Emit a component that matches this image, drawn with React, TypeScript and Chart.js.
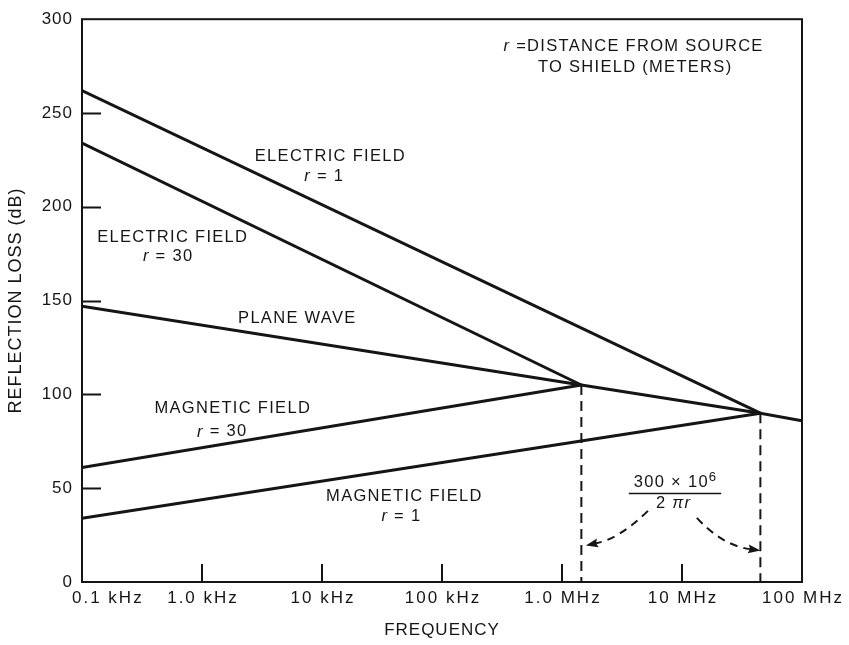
import React, { useEffect, useRef } from "react";
import { Chart, registerables } from "chart.js";

Chart.register(...registerables);

const FONT = '"Liberation Sans", Arial, Helvetica, sans-serif';
const INK = "#151515";

// ---- axes ----
const xTickValues = [1e2, 1e3, 1e4, 1e5, 1e6, 1e7, 1e8];
const xTickLabels = ["0.1 kHz", "1.0 kHz", "10 kHz", "100 kHz", "1.0 MHz", "10 MHz", "100 MHz"];
const yInnerTicks = [50, 100, 150, 200, 250];

// ---- series (frequency in Hz, reflection loss in dB) ----
const electricR1 = [{ x: 1e2, y: 262 }, { x: 4.5e7, y: 90 }];
const electricR30 = [{ x: 1e2, y: 234 }, { x: 1.45e6, y: 105 }];
const planeWave = [{ x: 1e2, y: 147 }, { x: 1.45e6, y: 105 }, { x: 4.5e7, y: 90 }, { x: 1e8, y: 86 }];
const magneticR30 = [{ x: 1e2, y: 61 }, { x: 1.45e6, y: 105 }];
const magneticR1 = [{ x: 1e2, y: 34 }, { x: 4.5e7, y: 90 }];
const cornerR30 = [{ x: 1.45e6, y: 105 }, { x: 1.45e6, y: 0 }];
const cornerR1 = [{ x: 4.5e7, y: 90 }, { x: 4.5e7, y: 0 }];

type Run = { t: string; i?: boolean; sup?: boolean };
type Note = { x: number; y: number; runs: Run[] };

const curveNotes: Note[] = [
  { x: 1.16e4, y: 226.8, runs: [{ t: "ELECTRIC FIELD" }] },
  { x: 1.03e4, y: 216.3, runs: [{ t: "r", i: true }, { t: " = 1" }] },
  { x: 563, y: 183.9, runs: [{ t: "ELECTRIC FIELD" }] },
  { x: 516, y: 173.7, runs: [{ t: "r", i: true }, { t: " = 30" }] },
  { x: 6150, y: 140.5, runs: [{ t: "PLANE WAVE" }] },
  { x: 1783, y: 92.6, runs: [{ t: "MAGNETIC FIELD" }] },
  { x: 1457, y: 80, runs: [{ t: "r", i: true }, { t: " = 30" }] },
  { x: 4.8e4, y: 45.8, runs: [{ t: "MAGNETIC FIELD" }] },
  { x: 4.53e4, y: 34.7, runs: [{ t: "r", i: true }, { t: " = 1" }] },
  { x: 3.9e6, y: 285.3, runs: [{ t: "r", i: true }, { t: " =DISTANCE FROM SOURCE" }] },
  { x: 4.02e6, y: 274.2, runs: [{ t: "TO SHIELD (METERS)" }] },
];

const fractionAt = { x: 8.74e6, numY: 53.2, lineY: 47.4, denY: 42.1 };
const numerator: Run[] = [{ t: "300 × 10" }, { t: "6", sup: true }];
const denominator: Run[] = [{ t: "2 " }, { t: "πr", i: true }];

// arrows: start, control, end in data space
const arrows = [
  { from: { x: 5.2e6, y: 37.9 }, ctrl: { x: 3.04e6, y: 23.2 }, to: { x: 1.58e6, y: 19.5 } },
  { from: { x: 1.33e7, y: 34.2 }, ctrl: { x: 2.16e7, y: 19.5 }, to: { x: 4.5e7, y: 16.8 } },
];

const LABEL_SIZE = 16.5;
const LABEL_SPACING = 1.3;

function runFont(r: Run, size: number) {
  const s = r.sup ? size * 0.8 : size;
  return `${r.i ? "italic " : ""}${s}px ${FONT}`;
}

function drawRuns(ctx: any, cx: number, cy: number, runs: Run[], size: number, spacing: number) {
  ctx.letterSpacing = spacing + "px";
  const widths = runs.map((r) => {
    ctx.font = runFont(r, size);
    return ctx.measureText(r.t).width;
  });
  const total = widths.reduce((a, b) => a + b, 0) - spacing;
  let x = cx - total / 2;
  ctx.textAlign = "left";
  ctx.textBaseline = "middle";
  runs.forEach((r, k) => {
    ctx.font = runFont(r, size);
    ctx.fillText(r.t, x, r.sup ? cy - 5 : cy);
    x += widths[k];
  });
  return total;
}

const annotate = {
  id: "annotate",
  beforeDraw(chart: any) {
    chart.ctx.letterSpacing = "1px";
  },
  afterDraw(chart: any) {
    const { ctx, chartArea: a, scales } = chart;
    const xs = scales.x;
    const ys = scales.y;
    ctx.save();
    ctx.strokeStyle = INK;
    ctx.fillStyle = INK;

    // frame
    ctx.lineWidth = 2;
    ctx.setLineDash([]);
    ctx.strokeRect(a.left, a.top, a.right - a.left, a.bottom - a.top);

    // inward ticks
    ctx.lineWidth = 2;
    ctx.beginPath();
    yInnerTicks.forEach((v) => {
      const py = Math.round(ys.getPixelForValue(v)) + 0.5;
      ctx.moveTo(a.left, py);
      ctx.lineTo(a.left + 19, py);
    });
    xTickValues.slice(1, -1).forEach((v) => {
      const px = Math.round(xs.getPixelForValue(v));
      ctx.moveTo(px, a.bottom);
      ctx.lineTo(px, a.bottom - 18);
    });
    ctx.stroke();

    // x tick labels
    ctx.letterSpacing = "2px";
    ctx.font = `17px ${FONT}`;
    ctx.textBaseline = "middle";
    xTickValues.forEach((v, k) => {
      const px = xs.getPixelForValue(v);
      if (k === 0) {
        ctx.textAlign = "left";
        ctx.fillText(xTickLabels[k], px - 10, a.bottom + 16);
      } else {
        ctx.textAlign = "center";
        ctx.fillText(xTickLabels[k], px + 1, a.bottom + 16);
      }
    });

    // curve notes
    curveNotes.forEach((n) => {
      drawRuns(ctx, xs.getPixelForValue(n.x), ys.getPixelForValue(n.y), n.runs, LABEL_SIZE, LABEL_SPACING);
    });

    // fraction
    const fx = xs.getPixelForValue(fractionAt.x);
    const nw = drawRuns(ctx, fx, ys.getPixelForValue(fractionAt.numY), numerator, LABEL_SIZE, LABEL_SPACING);
    drawRuns(ctx, fx - 2, ys.getPixelForValue(fractionAt.denY), denominator, LABEL_SIZE, LABEL_SPACING);
    const ly = Math.round(ys.getPixelForValue(fractionAt.lineY)) + 0.5;
    ctx.lineWidth = 1.5;
    ctx.beginPath();
    ctx.moveTo(fx - nw / 2 - 5, ly);
    ctx.lineTo(fx + nw / 2 + 5, ly);
    ctx.stroke();

    // dashed arrows
    arrows.forEach((ar) => {
      const p0 = { x: xs.getPixelForValue(ar.from.x), y: ys.getPixelForValue(ar.from.y) };
      const pc = { x: xs.getPixelForValue(ar.ctrl.x), y: ys.getPixelForValue(ar.ctrl.y) };
      const p1 = { x: xs.getPixelForValue(ar.to.x), y: ys.getPixelForValue(ar.to.y) };
      const ang = Math.atan2(p1.y - pc.y, p1.x - pc.x);
      const headLen = 13;
      const base = { x: p1.x - Math.cos(ang) * headLen * 0.8, y: p1.y - Math.sin(ang) * headLen * 0.8 };
      ctx.lineWidth = 2;
      ctx.setLineDash([8, 6]);
      ctx.beginPath();
      ctx.moveTo(p0.x, p0.y);
      ctx.quadraticCurveTo(pc.x, pc.y, base.x, base.y);
      ctx.stroke();
      ctx.setLineDash([]);
      ctx.beginPath();
      ctx.moveTo(p1.x, p1.y);
      ctx.lineTo(p1.x - Math.cos(ang - 0.35) * headLen, p1.y - Math.sin(ang - 0.35) * headLen);
      ctx.lineTo(base.x, base.y);
      ctx.lineTo(p1.x - Math.cos(ang + 0.35) * headLen, p1.y - Math.sin(ang + 0.35) * headLen);
      ctx.closePath();
      ctx.fill();
    });

    ctx.restore();
  },
};

const solid = (data: { x: number; y: number }[]) => ({
  data,
  borderColor: INK,
  borderWidth: 3,
  pointRadius: 0,
  fill: false,
  tension: 0,
  borderCapStyle: "butt" as const,
  borderJoinStyle: "miter" as const,
});

const dashed = (data: { x: number; y: number }[]) => ({
  data,
  borderColor: INK,
  borderWidth: 2,
  borderDash: [10, 6],
  pointRadius: 0,
  fill: false,
  tension: 0,
});

export default function App() {
  const ref = useRef<HTMLCanvasElement>(null);
  useEffect(() => {
    const chart = new Chart(ref.current as HTMLCanvasElement, {
      type: "line",
      data: {
        datasets: [
          solid(electricR1),
          solid(electricR30),
          solid(planeWave),
          solid(magneticR30),
          solid(magneticR1),
          dashed(cornerR30),
          dashed(cornerR1),
        ] as any,
      },
      options: {
        animation: false,
        responsive: false,
        maintainAspectRatio: false,
        devicePixelRatio: 1,
        layout: { padding: { left: 0, top: 12, right: 47, bottom: 0 } },
        plugins: { legend: { display: false }, tooltip: { enabled: false } },
        scales: {
          x: {
            type: "logarithmic",
            min: 1e2,
            max: 1e8,
            grid: { display: false, drawTicks: false },
            border: { display: false },
            ticks: { display: false },
            afterFit: (s: any) => {
              s.height = 63;
            },
            title: {
              display: true,
              text: "FREQUENCY",
              font: { family: FONT, size: 17 },
              color: INK,
              padding: { top: 0, bottom: 4 },
            },
          },
          y: {
            type: "linear",
            min: 0,
            max: 300,
            grid: { display: false, drawTicks: false },
            border: { display: false },
            ticks: { stepSize: 50, padding: 9, font: { family: FONT, size: 17 }, color: INK },
            afterFit: (s: any) => {
              s.width = 82;
            },
            title: {
              display: true,
              text: "REFLECTION LOSS (dB)",
              font: { family: FONT, size: 18 },
              color: INK,
              padding: { top: 5, bottom: 0 },
            },
          },
        },
      } as any,
      plugins: [annotate],
    });
    return () => chart.destroy();
  }, []);
  return (
    <div style={{ position: "absolute", left: 0, top: 0, width: 849, height: 645, background: "#fff" }}>
      <canvas ref={ref} width={849} height={645} style={{ display: "block", width: 849, height: 645 }} />
    </div>
  );
}
